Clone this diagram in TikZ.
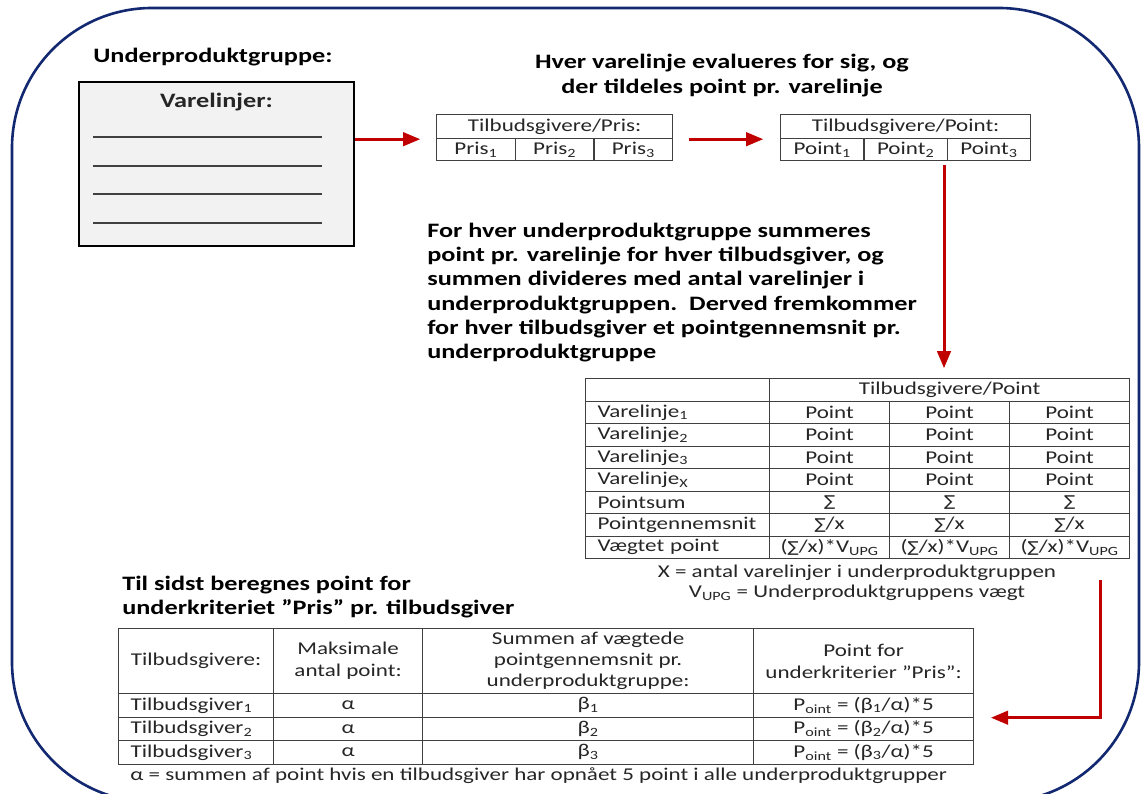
\documentclass[tikz,border=0pt]{standalone}
\usepackage{fontspec}
\setmainfont{Carlito}[FakeStretch=1.28]
\newfontfamily\symfont{DejaVu Sans}[FakeStretch=1.1]
\usetikzlibrary{arrows,positioning}

\definecolor{navy}{RGB}{18,40,112}
\definecolor{arrowred}{RGB}{192,0,0}
\definecolor{tblgray}{RGB}{64,64,64}
\definecolor{boxfill}{RGB}{242,242,242}

\newcommand{\sumsym}{{\symfont\fontsize{15}{15}\selectfont ∑}}

\begin{document}
\begin{tikzpicture}[x=1pt,y=-1pt,>=triangle 45,semithick]

  \tikzstyle{border}=[draw=navy,line width=2.6pt,rounded corners=140pt]
  \tikzstyle{flow}=[->,draw=arrowred,line width=3pt]
  \tikzstyle{heading}=[font=\fontsize{20.5}{24.2}\selectfont\bfseries,inner sep=0pt]
  \tikzstyle{cell}=[draw=tblgray,line width=1.2pt,inner sep=0pt,anchor=north west,
                    text=black!85,font=\fontsize{18}{21}\selectfont,align=center]
  \tikzstyle{lcell}=[cell,align=left,inner xsep=12pt]
  \tikzstyle{note}=[inner sep=0pt,text=black!85,font=\fontsize{18}{20}\selectfont]

  \fill[white] (0,0) rectangle (1141,794);
  \useasboundingbox (0,0) rectangle (1141,794);
  \draw[border] (12,8) rectangle (1139,802);

  % underproduktgruppe
  \node[heading,anchor=west] (upgtitle) at (93,57) {Underproduktgruppe:};
  \node[draw=black,line width=2pt,fill=boxfill,anchor=north west,
        minimum width=275,minimum height=164] (varebox) at (78,81) {};
  \node[heading,text=black!85] (varetitle) [below=12pt of varebox.north] {Varelinjer:};
  \foreach \y in {137,166,194,223}
    \draw[tblgray,line width=1.5pt] (93,\y) -- (322,\y);

  % pris og point pr. varelinje
  \node[heading,align=center] (evaltext) at (722,75.5)
    {Hver varelinje evalueres for sig, og\\der tildeles point pr. varelinje};

  \node[cell,minimum width=236,minimum height=24] (prishead) at (436,114) {Tilbudsgivere/Pris:};
  \foreach \i in {1,2,3}
    \node[cell,minimum width=78.67,minimum height=22] (pris\i) at ({436+78.67*(\i-1)},138)
      {Pris\textsubscript{\i}};

  \node[cell,minimum width=250,minimum height=24] (pthead) at (780,114) {Tilbudsgivere/Point:};
  \foreach \i in {1,2,3}
    \node[cell,minimum width=83.33,minimum height=22] (pt\i) at ({780+83.33*(\i-1)},138)
      {Point\textsubscript{\i}};

  \draw[flow,shorten >=16pt] (varebox.east |- prishead.south west) -- (prishead.south west);
  \draw[flow,shorten <=16pt,shorten >=17pt] (prishead.south east) -- (pthead.south west);

  % summering
  \node[heading,align=left,anchor=west] (sumtext) at (427,292.5)
    {For hver underproduktgruppe summeres\\
     point pr. varelinje for hver tilbudsgiver, og\\
     summen divideres med antal varelinjer i\\
     underproduktgruppen.\ \ Derved fremkommer\\
     for hver tilbudsgiver et pointgennemsnit pr.\\
     underproduktgruppe};

  \node[cell,minimum width=184,minimum height=22.5] (btcorner) at (585,378) {};
  \node[cell,minimum width=360,minimum height=22.5] (bthead) at (769,378) {Tilbudsgivere/Point};
  \foreach \lbl/\val [count=\r] in
      {Varelinje\textsubscript{1}/Point,Varelinje\textsubscript{2}/Point,
       Varelinje\textsubscript{3}/Point,Varelinje\textsubscript{X}/Point,
       Pointsum/{\sumsym},Pointgennemsnit/{\sumsym/x},
       Vægtet point/{(\sumsym/x)*V\textsubscript{UPG}}} {
    \node[lcell,text width=160,minimum height=22.5] (btr\r) at (585,{378+22.5*\r}) {\lbl};
    \foreach \c in {0,1,2}
      \node[cell,minimum width=120,minimum height=22.5] (btc\r\c) at ({769+120*\c},{378+22.5*\r}) {\val};
  }
  \node[note,align=center] (btnote) at (857,583)
    {X = antal varelinjer i underproduktgruppen\\V\textsubscript{UPG} = Underproduktgruppens vægt};

  \coordinate (down) at (944,160);
  \draw[flow,shorten <=5pt,shorten >=10pt] (down) -- (down |- bthead.north);

  % point for underkriteriet pris
  \node[heading,align=left,anchor=west] (finaltext) at (122,597)
    {Til sidst beregnes point for\\underkriteriet ”Pris” pr. tilbudsgiver};

  \node[cell,minimum width=155,minimum height=65] (bh1) at (118,628) {Tilbudsgivere:};
  \node[cell,minimum width=149,minimum height=65,font=\fontsize{18}{22}\selectfont] (bh2) at (273,628)
    {Maksimale\\antal point:};
  \node[cell,minimum width=331,minimum height=65,font=\fontsize{18}{21}\selectfont] (bh3) at (422,628)
    {Summen af vægtede\\pointgennemsnit pr.\\underproduktgruppe:};
  \node[cell,minimum width=220,minimum height=65,font=\fontsize{18}{22}\selectfont] (bh4) at (753,628)
    {Point for\\underkriterier ”Pris”:};
  \foreach \i in {1,2,3} {
    \node[lcell,text width=131,minimum height=23.5] (bt\i) at (118,{693+23.5*(\i-1)})
      {Tilbudsgiver\textsubscript{\i}};
    \node[cell,minimum width=149,minimum height=23.5] (ba\i) at (273,{693+23.5*(\i-1)}) {α};
    \node[cell,minimum width=331,minimum height=23.5] (bb\i) at (422,{693+23.5*(\i-1)})
      {β\textsubscript{\i}};
    \node[cell,minimum width=220,minimum height=23.5] (bp\i) at (753,{693+23.5*(\i-1)})
      {P\textsubscript{oint} = (β\textsubscript{\i}/α)*5};
  }
  \node[note,anchor=west] (alphanote) at (130,776)
    {α = summen af point hvis en tilbudsgiver har opnået 5 point i alle underproduktgrupper};

  \coordinate (drop) at (1100,580);
  \draw[flow,shorten >=17pt] (drop) |- (bp1.south east);

\end{tikzpicture}
\end{document}
